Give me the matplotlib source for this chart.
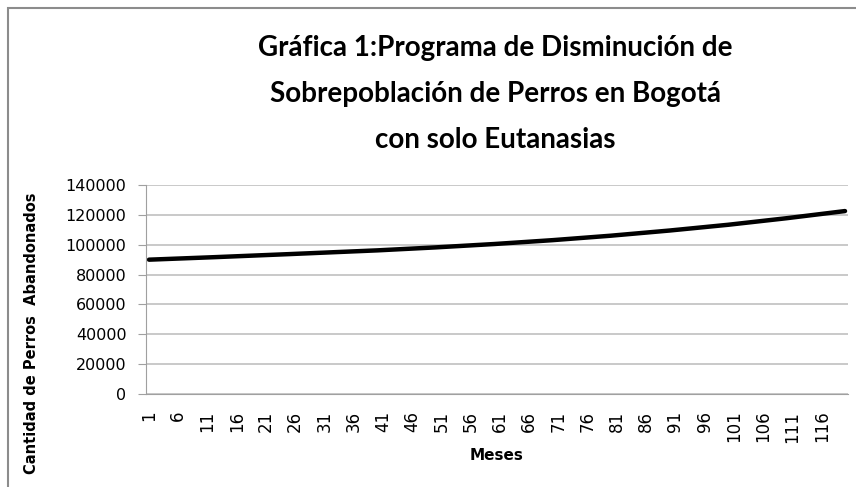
import matplotlib
matplotlib.use("Agg")
from matplotlib import pyplot as plt
from matplotlib.patches import Rectangle

# Months 1..120 and estimated abandoned dogs
meses = list(range(1, 121))
perros = [
    90000, 90150, 90300, 90450, 90600, 90750, 90900, 91050, 91200, 91350,
    91500, 91650, 91810, 91970, 92130, 92290, 92450, 92610, 92770, 92930,
    93090, 93250, 93410, 93570, 93730, 93900, 94070, 94230, 94400, 94570,
    94730, 94900, 95070, 95230, 95400, 95570, 95730, 95900, 96070, 96230,
    96430, 96630, 96830, 97030, 97230, 97430, 97630, 97830, 98030, 98230,
    98460, 98680, 98910, 99130, 99360, 99580, 99810, 100030, 100260, 100480,
    100740, 101000, 101260, 101520, 101780, 102040, 102300, 102560, 102820, 103080,
    103380, 103680, 103980, 104280, 104580, 104880, 105180, 105480, 105780, 106080,
    106430, 106770, 107120, 107460, 107810, 108150, 108500, 108840, 109190, 109530,
    109920, 110300, 110690, 111070, 111460, 111840, 112230, 112610, 113000, 113380,
    113820, 114260, 114700, 115140, 115580, 116020, 116460, 116900, 117340, 117780,
    118260, 118740, 119220, 119700, 120180, 120660, 121140, 121620, 122100, 122580,
]
y_ticks = [0, 20000, 40000, 60000, 80000, 100000, 120000, 140000]
x_ticks = meses[::5]

titulo = ["Gráfica 1:Programa de Disminución de",
          "Sobrepoblación de Perros en Bogotá",
          "con solo Eutanasias"]
titulo_y = [48, 94, 140]  # pixel centres of the three title lines

fig = plt.figure(figsize=(8.56, 4.87), dpi=100)
ax = fig.add_axes([0.1706, 0.191, 0.82, 0.429])

# chart frame
fig.patches.append(Rectangle((8 / 856, -0.05), 1.0, 1 - 8 / 487 + 0.05,
                             transform=fig.transFigure, fill=False,
                             edgecolor="#8c8c8c", linewidth=1.5))

ax.plot(meses, perros, color="black", linewidth=3.2, solid_capstyle="round")

ax.set_xlim(0.5, 120.5)
ax.set_ylim(0, 140000)
ax.set_yticks(y_ticks)
ax.set_yticklabels([str(v) for v in y_ticks], fontsize=11.5)
ax.set_xticks(x_ticks)
ax.set_xticklabels([str(v) for v in x_ticks], rotation=90, fontsize=12)
ax.tick_params(axis="x", length=0, pad=12)
ax.tick_params(axis="y", length=6, color="#a0a0a0", pad=8)

ax.grid(axis="y", color="#c0c0c0", linewidth=1.2)
ax.set_axisbelow(True)
for s in ["top", "right"]:
    ax.spines[s].set_visible(False)
ax.spines["left"].set_color("#a0a0a0")
ax.spines["bottom"].set_color("#a0a0a0")

for linea, yp in zip(titulo, titulo_y):
    fig.text(495 / 856, 1 - yp / 487, linea, ha="center", va="center",
             fontsize=20, fontweight="bold", family="Lato")
fig.text(0.58, 1 - 455 / 487, "Meses", ha="center", va="center",
         fontsize=11, fontweight="bold")
fig.text(32 / 856, 1 - 333 / 487, "Cantidad de Perros  Abandonados",
         ha="center", va="center", rotation=90, fontsize=10.5, fontweight="bold")

fig.savefig("out.png", dpi=100)
